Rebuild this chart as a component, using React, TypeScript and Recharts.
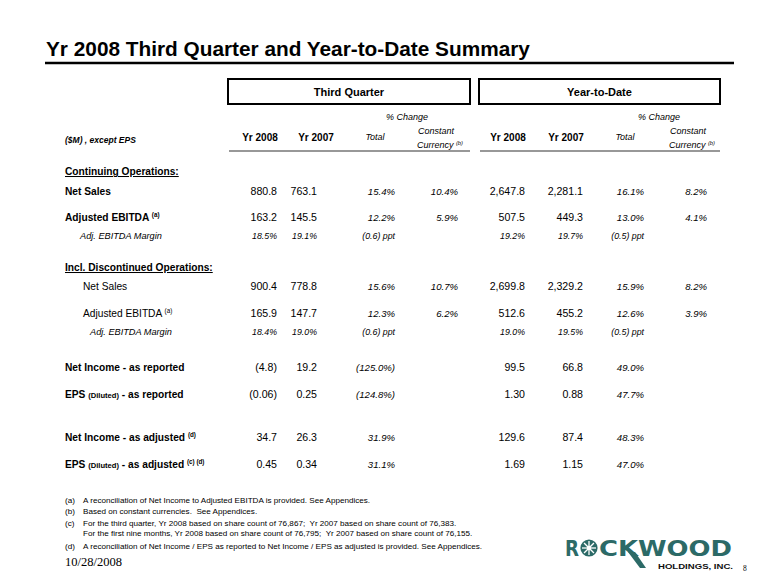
import React from 'react';
import { ScatterChart, Scatter, XAxis, YAxis, ReferenceArea, ReferenceLine } from 'recharts';

const W = 780;
const H = 585;
const SANS = '"Liberation Sans", Arial, sans-serif';
const SERIF = '"Liberation Serif", "Times New Roman", serif';
const TEAL = '#2c6a67';

// ---- values ----
const title = 'Yr 2008 Third Quarter and Year-to-Date Summary';
const periods = ['Third Quarter', 'Year-to-Date'];
const sections = ['Continuing Operations:', 'Incl. Discontinued Operations:'];

const rowLabels = [
    'Net Sales',
    'Adjusted EBITDA',
    'Adj. EBITDA Margin',
    'Net Sales',
    'Adjusted EBITDA',
    'Adj. EBITDA Margin',
    'Net Income - as reported',
    'EPS (Diluted) - as reported',
    'Net Income - as adjusted',
    'EPS (Diluted) - as adjusted',
];
const rowNotes = ['', '(a)', '', '', '(a)', '', '', '', '(d)', '(c) (d)'];
const rowKinds = ['amt', 'amt', 'pct', 'amt', 'amt', 'pct', 'amt', 'eps', 'amt', 'eps'];

const q2008 = [880.8, 163.2, 18.5, 900.4, 165.9, 18.4, -4.8, -0.06, 34.7, 0.45];
const q2007 = [763.1, 145.5, 19.1, 778.8, 147.7, 19.0, 19.2, 0.25, 26.3, 0.34];
const qTotal = [15.4, 12.2, -0.6, 15.6, 12.3, -0.6, -125.0, -124.8, 31.9, 31.1];
const qConst = [10.4, 5.9, null, 10.7, 6.2, null, null, null, null, null];
const ytd2008 = [2647.8, 507.5, 19.2, 2699.8, 512.6, 19.0, 99.5, 1.3, 129.6, 1.69];
const ytd2007 = [2281.1, 449.3, 19.7, 2329.2, 455.2, 19.5, 66.8, 0.88, 87.4, 1.15];
const ytdTotal = [16.1, 13.0, -0.5, 15.9, 12.6, -0.5, 49.0, 47.7, 48.3, 47.0];
const ytdConst = [8.2, 4.1, null, 8.2, 3.9, null, null, null, null, null];

const footnoteKeys = ['(a)', '(b)', '(c)', '', '(d)'];
const footnoteTexts = [
    'A reconciliation of Net Income to Adjusted EBITDA is provided. See Appendices.',
    'Based on constant currencies.  See Appendices.',
    'For the third quarter, Yr 2008 based on share count of 76,867;  Yr 2007 based on share count of 76,383.',
    'For the first nine months, Yr 2008 based on share count of 76,795;  Yr 2007 based on share count of 76,155.',
    'A reconciliation of Net Income / EPS as reported to Net Income / EPS as adjusted is provided. See Appendices.',
];
const slideDate = '10/28/2008';
const pageNo = '8';

// ---- layout ----
const rowY = [195, 221, 239, 290, 317, 335, 371, 398, 441, 468];
const rowX = [65, 65, 80, 83, 83, 90, 65, 65, 65, 65];
const rowBold = [true, true, false, false, false, false, true, true, true, true];
const sectionY = [175, 271];
const boxes = [[228, 470], [479, 720]];
const valueCols = [
    { values: q2008, x: 277, change: false },
    { values: q2007, x: 317, change: false },
    { values: qTotal, x: 395, change: true },
    { values: qConst, x: 458, change: true },
    { values: ytd2008, x: 525, change: false },
    { values: ytd2007, x: 583, change: false },
    { values: ytdTotal, x: 644, change: true },
    { values: ytdConst, x: 707, change: true },
];
const footY = [503, 514, 526, 536, 549];
const LBL = 10.2;
const NUM = 10.6;
const MRG = 8.8;

const paren = (v: number, s: string) => (v < 0 ? `(${s})` : s);
const fmt = (v: number | null, kind: string, change: boolean) => {
    if (v === null) return '';
    const a = Math.abs(v);
    if (change) {
        if (kind === 'pct') return `${paren(v, a.toFixed(1))} ppt`;
        return v < 0 ? `(${a.toFixed(1)}%)` : `${a.toFixed(1)}%`;
    }
    if (kind === 'pct') return `${a.toFixed(1)}%`;
    if (kind === 'eps') return paren(v, a.toFixed(2));
    return paren(v, a.toLocaleString('en-US', { minimumFractionDigits: 1, maximumFractionDigits: 1 }));
};

type Part = { t: string; size?: number; dy?: number };
type Cell = {
    x: number; y: number; text?: string; parts?: Part[];
    anchor?: string; size: number; bold?: boolean; italic?: boolean;
    underline?: boolean; family?: string; fill?: string;
};

const cells: Cell[] = [];
cells.push({ x: 46, y: 56, text: title, size: 20.8, bold: true });
periods.forEach((p, i) => {
    cells.push({ x: (boxes[i][0] + boxes[i][1]) / 2, y: 96, text: p, anchor: 'middle', size: 11, bold: true });
});
cells.push({ x: 65, y: 143, text: '($M) , except EPS', size: 8.5, bold: true, italic: true });
[[260, 316, 375, 435], [508, 566, 625, 687]].forEach(([y8, y7, tot, cc]) => {
    cells.push({ x: cc - 28, y: 120, text: '% Change', anchor: 'middle', size: 9, italic: true });
    cells.push({ x: y8, y: 141, text: 'Yr 2008', anchor: 'middle', size: 10, bold: true });
    cells.push({ x: y7, y: 141, text: 'Yr 2007', anchor: 'middle', size: 10, bold: true });
    cells.push({ x: tot, y: 140, text: 'Total', anchor: 'middle', size: 9, italic: true });
    cells.push({ x: cc + 19, y: 134, text: 'Constant', anchor: 'end', size: 9, italic: true });
    cells.push({
        x: cc + 28, y: 148, anchor: 'end', size: 9, italic: true,
        parts: [{ t: 'Currency ' }, { t: '(b)', size: 5.8, dy: -3.5 }],
    });
});
sections.forEach((s, i) => {
    cells.push({ x: 65, y: sectionY[i], text: s, size: LBL, bold: true, underline: true });
});
rowLabels.forEach((label, i) => {
    const margin = rowKinds[i] === 'pct';
    const size = margin ? 9.2 : LBL;
    const parts: Part[] = [];
    const m = label.split('(Diluted)');
    if (m.length > 1) {
        parts.push({ t: m[0] }, { t: '(Diluted)', size: 7.6 }, { t: m[1], size });
    } else {
        parts.push({ t: label });
    }
    if (rowNotes[i]) parts.push({ t: ' ' }, { t: rowNotes[i], size: 6.3, dy: -4.5 });
    cells.push({ x: rowX[i], y: rowY[i], parts, size, bold: rowBold[i], italic: margin });
    valueCols.forEach((col) => {
        const txt = fmt(col.values[i], rowKinds[i], col.change);
        if (!txt) return;
        cells.push({
            x: col.x, y: rowY[i], text: txt, anchor: 'end',
            size: margin ? MRG : col.change ? 9.6 : NUM, italic: margin || col.change,
        });
    });
});
footnoteTexts.forEach((t, i) => {
    if (footnoteKeys[i]) cells.push({ x: 65, y: footY[i], text: footnoteKeys[i], size: 8.1 });
    cells.push({ x: 83, y: footY[i], text: t, size: 8.1 });
});
cells.push({ x: 65, y: 566, text: slideDate, size: 12.5, family: SERIF });
cells.push({ x: 743, y: 571, text: pageNo, size: 7.5, family: SERIF });

const logo = [{ x: 565, y: 556 }];

const CellText = (props: any) => {
    const { cx, cy, payload } = props;
    const c: Cell = payload;
    return (
        <text
            x={cx}
            y={cy}
            textAnchor={c.anchor ?? 'start'}
            fontFamily={c.family ?? SANS}
            fontSize={c.size}
            fontWeight={c.bold ? 'bold' : 'normal'}
            fontStyle={c.italic ? 'italic' : 'normal'}
            textDecoration={c.underline ? 'underline' : undefined}
            fill={c.fill ?? '#000'}
            style={{ whiteSpace: 'pre' }}
        >
            {c.parts
                ? c.parts.map((p, k) => (
                      <tspan key={k} fontSize={p.size ?? c.size} dy={p.dy ?? (k > 0 && c.parts![k - 1].dy ? -c.parts![k - 1].dy! : 0)}>
                          {p.t}
                      </tspan>
                  ))
                : c.text}
        </text>
    );
};

const LogoMark = (props: any) => {
    const { cx, cy } = props;
    const rays = [0, 45, 90, 135, 180, 225, 270, 315];
    const ox = cx + 24;
    const oy = cy - 8;
    return (
        <g>
            <text x={cx} y={cy} fontFamily='"DejaVu Sans", sans-serif' fontWeight="bold" fontSize={22}
                fill={TEAL} textLength={14} lengthAdjust="spacingAndGlyphs">R</text>
            <circle cx={ox} cy={oy} r={8.6} fill={TEAL} />
            {rays.map((a) => (
                <line key={a} x1={ox} y1={oy}
                    x2={ox + 7 * Math.cos((a * Math.PI) / 180)} y2={oy + 7 * Math.sin((a * Math.PI) / 180)}
                    stroke="#fff" strokeWidth={1.3} />
            ))}
            <circle cx={ox} cy={oy} r={2.2} fill="#fff" />
            <text x={cx + 34} y={cy} fontFamily='"DejaVu Sans", sans-serif' fontWeight="bold" fontSize={22}
                fill={TEAL} textLength={133} lengthAdjust="spacingAndGlyphs">CKWOOD</text>
            <polygon points={`${cx + 63},${cy - 4} ${cx + 70},${cy - 4} ${cx + 81},${cy + 12} ${cx + 75},${cy + 12}`} fill={TEAL} />
            <text x={cx + 93} y={cy + 13} fontFamily={SANS} fontWeight="bold" fontSize={7}
                fill="#111" textLength={75} lengthAdjust="spacingAndGlyphs">HOLDINGS, INC.</text>
        </g>
    );
};

export default function App() {
    return (
        <div style={{ position: 'absolute', left: 0, top: 0, width: W, height: H, background: '#fff' }}>
            <ScatterChart width={W} height={H} margin={{ top: 0, right: 0, bottom: 0, left: 0 }}>
                <XAxis type="number" dataKey="x" domain={[0, W]} allowDataOverflow hide />
                <YAxis type="number" dataKey="y" domain={[0, H]} reversed allowDataOverflow hide />
                <ReferenceLine segment={[{ x: 45, y: 63 }, { x: 734, y: 63 }]} stroke="#000" strokeWidth={2.5} ifOverflow="visible" />
                {boxes.map(([x1, x2], i) => (
                    <ReferenceArea key={`b${i}`} x1={x1} x2={x2} y1={79} y2={104} fill="#fff" fillOpacity={0}
                        stroke="#000" strokeWidth={2} strokeOpacity={1} ifOverflow="visible" />
                ))}
                {boxes.map(([x1, x2], i) => (
                    <ReferenceLine key={`u${i}`} segment={[{ x: x1 + 1, y: 151 }, { x: x2, y: 151 }]}
                        stroke="#333" strokeWidth={1.2} ifOverflow="visible" />
                ))}
                <Scatter data={cells} shape={CellText} isAnimationActive={false} />
                <Scatter data={logo} shape={LogoMark} isAnimationActive={false} />
            </ScatterChart>
        </div>
    );
}
